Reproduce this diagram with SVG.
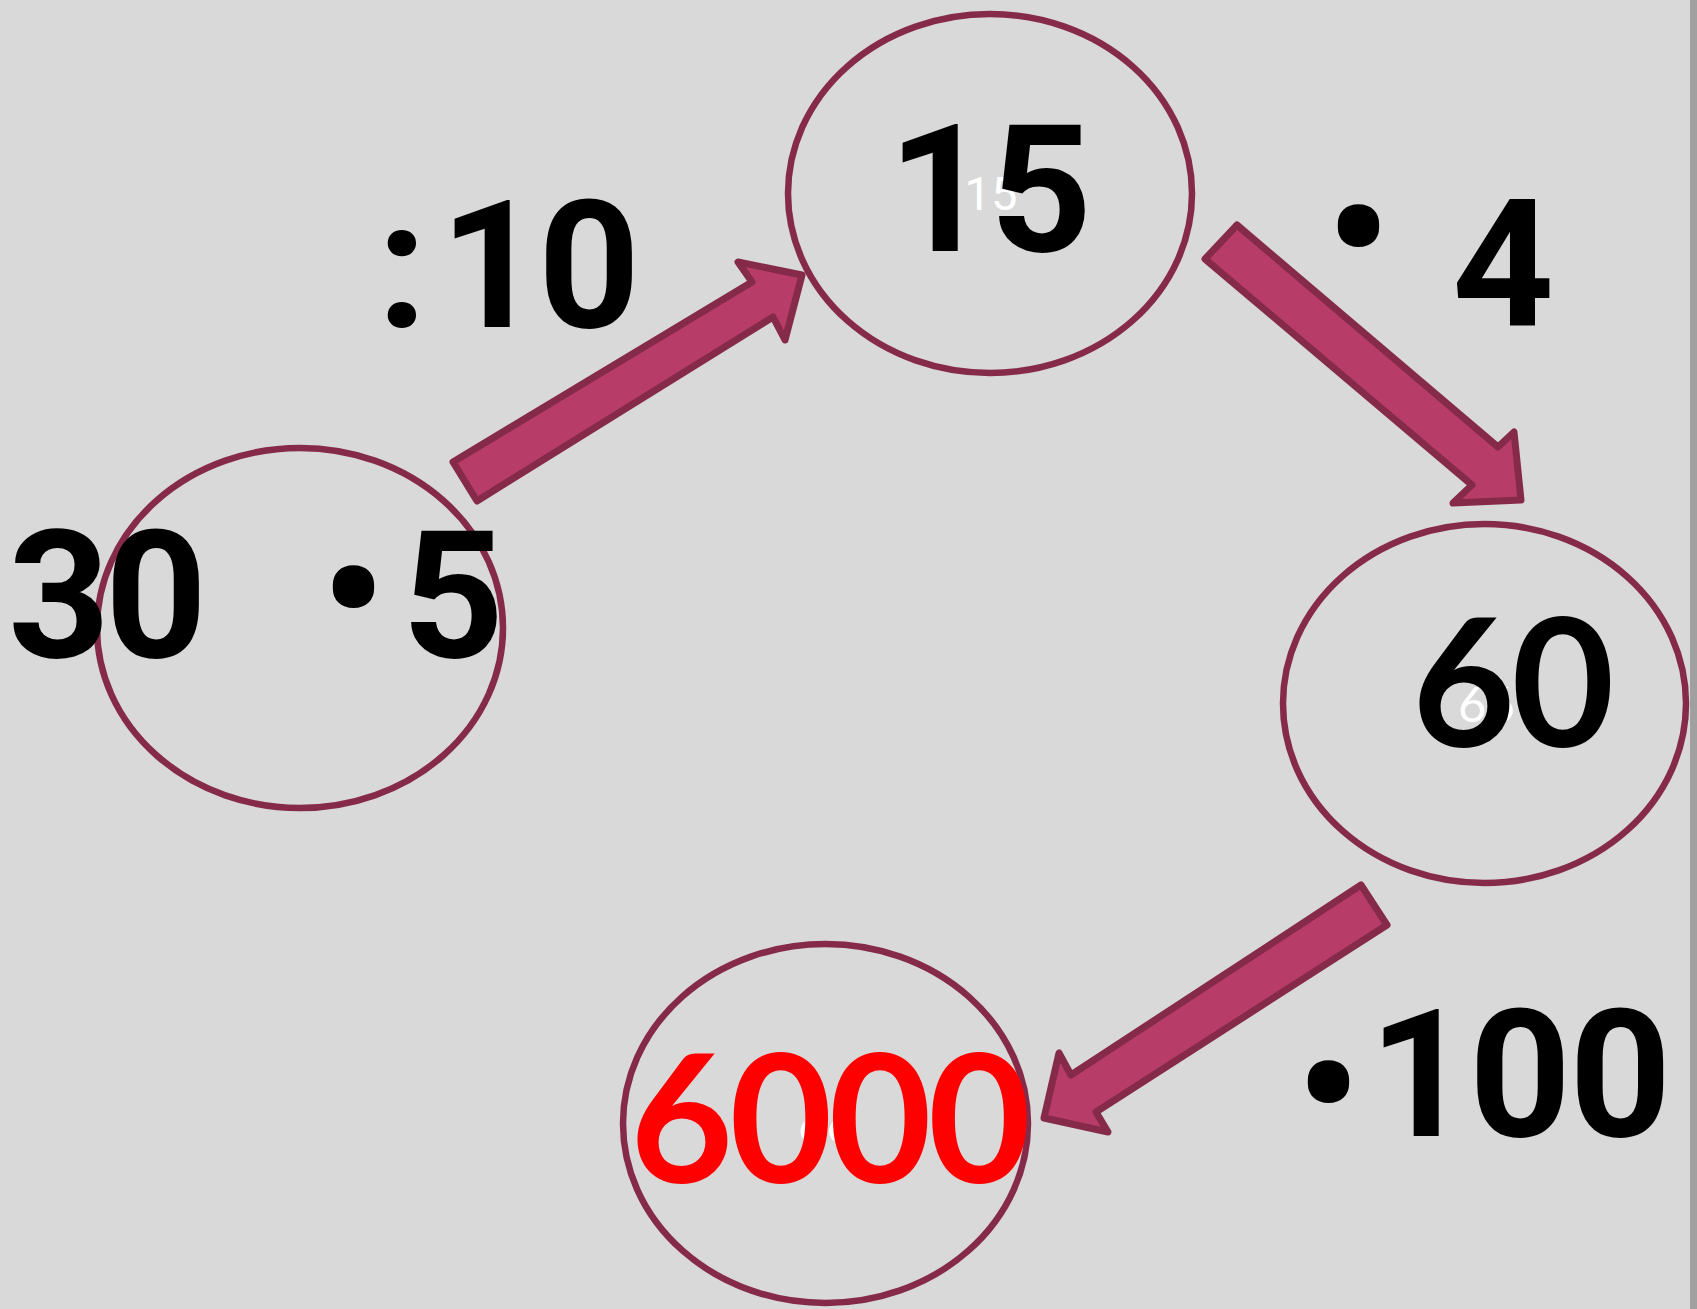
<svg xmlns="http://www.w3.org/2000/svg" width="1697" height="1309" viewBox="0 0 1697 1309">
<style>
.node{fill:none;stroke:#862A4A;stroke-width:6.5}
.arrow{fill:#B83C68;stroke:#862A4A;stroke-width:7;stroke-linejoin:round}
.big{font-family:Roboto,"Liberation Sans",sans-serif;font-weight:700;font-size:178px;fill:#000}
.bigl{font-family:Lato,"Open Sans",sans-serif;font-weight:700;font-size:178px;letter-spacing:-4px}
.ghost{font-family:Roboto,"Liberation Sans",sans-serif;font-weight:400;font-size:47px;fill:#fff}
.ghostl{font-family:Lato,"Open Sans",sans-serif;font-weight:400;font-size:49px;fill:#fff}
</style>
<rect x="0" y="0" width="1697" height="1309" fill="#D9D9D9"/>
<rect x="1690" y="0" width="7" height="1309" fill="#A0A0A0"/>
<g id="connectors">
<polygon class="arrow" points="453,462 752,282 738,262 802,275 785,340 773,317 477,501"/>
<polygon class="arrow" points="1237,225 1498,447 1514,432 1521,500 1453,503 1472,485 1205,259"/>
<polygon class="arrow" points="1361,885 1071,1075 1059,1053 1044,1118 1108,1132 1096,1112 1387,925"/>
</g>
<g id="node-30">
<ellipse class="node" cx="300" cy="628" rx="203" ry="180"/>
<text class="big" x="8" y="657" letter-spacing="-5">30</text>
<text class="big" x="353" y="652" text-anchor="middle">•</text>
<text class="big" x="402" y="657">5</text>
</g>
<g id="node-15">
<ellipse class="node" cx="990" cy="193.5" rx="202" ry="179.5"/>
<text class="ghost" x="991" y="210" text-anchor="middle">15</text>
<text class="big" x="888" y="251">15</text>
</g>
<g id="node-60">
<ellipse class="node" cx="1484.5" cy="703.5" rx="201.5" ry="179.5"/>
<text class="ghostl" x="1458" y="722">66</text>
<text class="bigl" x="1412" y="747" fill="#000">60</text>
</g>
<g id="node-6000">
<ellipse class="node" cx="825.5" cy="1123.5" rx="202.5" ry="179.5"/>
<text class="ghostl" x="798" y="1143">66</text>
<text class="bigl" x="630" y="1183" fill="#FF0000">6000</text>
</g>
<g id="labels">
<text class="big" x="402" y="327" text-anchor="middle">:</text>
<text class="big" x="440" y="327" letter-spacing="-4">10</text>
<text class="big" x="1358" y="291" text-anchor="middle">•</text>
<text class="big" x="1452" y="326">4</text>
<text class="big" x="1328" y="1147" text-anchor="middle">•</text>
<text class="big" x="1369" y="1136" letter-spacing="-2">100</text>
</g>
</svg>
